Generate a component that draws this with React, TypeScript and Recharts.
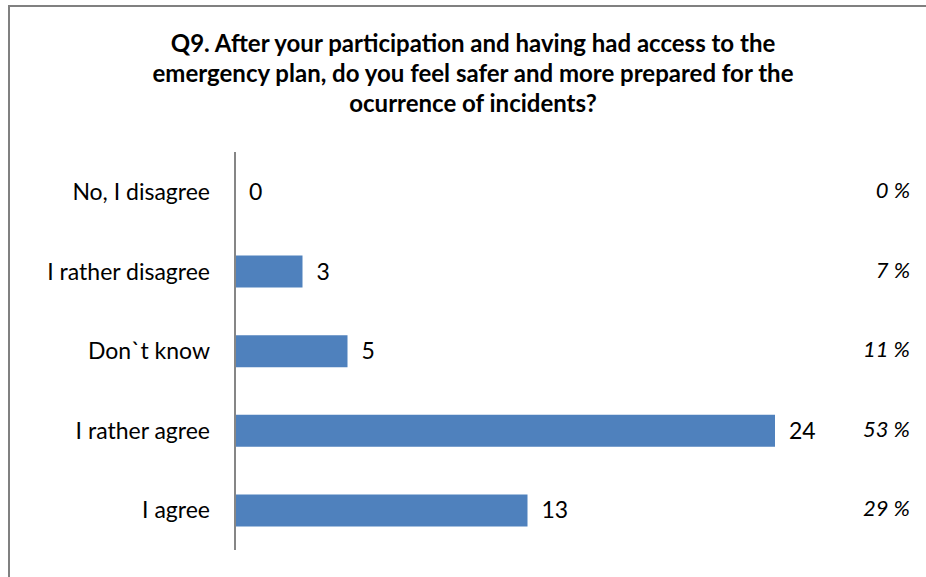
import { BarChart, Bar, XAxis, YAxis, LabelList } from "recharts";

const answers = ["No, I disagree", "I rather disagree", "Don`t know", "I rather agree", "I agree"];
const counts = [0, 3, 5, 24, 13];
const percents = ["0 %", "7 %", "11 %", "53 %", "29 %"];

const data = answers.map((answer, i) => ({ answer, count: counts[i], pct: percents[i] }));

const FONT = "Lato, 'Open Sans', sans-serif";
const PCT_RIGHT = 910;

function CountLabel(props: any) {
  const { x, y, width, height, value } = props;
  const w = Number(value) === 0 ? 0 : Number(width);
  return (
    <text x={Number(x) + w + 14} y={Number(y) + Number(height) / 2} dy={8} fontSize={23} fill="#000" fontFamily={FONT}>
      {value}
    </text>
  );
}

function PctLabel(props: any) {
  const { y, height, value } = props;
  return (
    <text x={PCT_RIGHT} y={Number(y) + Number(height) / 2} dy={6} textAnchor="end" fontSize={22} fontStyle="italic" fill="#000" fontFamily={FONT}>
      {value}
    </text>
  );
}

// keep zero-valued rows in the label list (a 1px sliver hidden under the axis line)
const minSize = (value: any) => (Number(value) === 0 ? 1 : 0);

export default function App() {
  return (
    <div style={{ position: "fixed", left: 0, top: 0, width: 926, height: 577, background: "#fff", overflow: "hidden" }}>
      <div
        style={{
          position: "absolute",
          left: 8,
          top: 5,
          width: 940,
          height: 600,
          borderLeft: "2px solid #808080",
          borderTop: "2px solid #808080",
        }}
      />
      <div
        style={{
          position: "absolute",
          left: 0,
          top: 28,
          width: 946,
          textAlign: "center",
          fontFamily: FONT,
          fontWeight: "bold",
          fontSize: 24,
          lineHeight: "30px",
          color: "#000",
        }}
      >
        Q9. After your participation and having had access to the
        <br />
        emergency plan, do you feel safer and more prepared for the
        <br />
        ocurrence of incidents?
      </div>
      <div style={{ position: "absolute", left: 0, top: 0 }}>
        <BarChart
          width={926}
          height={577}
          data={data}
          layout="vertical"
          barSize={32}
          margin={{ top: 152, right: 16, bottom: 27, left: 10 }}
        >
          <XAxis type="number" domain={[0, 30]} hide />
          <Bar dataKey="count" fill="#4F81BD" minPointSize={minSize} isAnimationActive={false}>
            <LabelList dataKey="count" content={<CountLabel />} />
            <LabelList dataKey="pct" content={<PctLabel />} />
          </Bar>
          <YAxis
            type="category"
            dataKey="answer"
            width={225}
            axisLine={{ stroke: "#868686", strokeWidth: 2 }}
            tickLine={false}
            tickMargin={19}
            tick={{ fill: "#000", fontSize: 23, fontFamily: FONT }}
          />
        </BarChart>
      </div>
    </div>
  );
}
